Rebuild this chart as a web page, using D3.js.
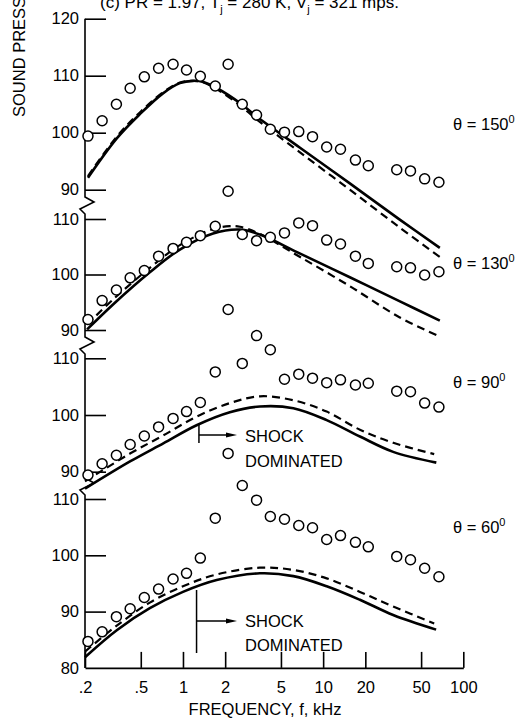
<!DOCTYPE html>
<html>
<head>
<meta charset="utf-8">
<script src="https://cdn.jsdelivr.net/npm/d3@7/dist/d3.min.js"></script>
<style>
body { margin: 0; background: #fff; }
svg text { font-family: "Liberation Sans", Arial, sans-serif; fill: #000; }
</style>
</head>
<body>
<svg id="chart" width="520" height="724"></svg>
<script>
/*global d3*/

// one-third octave band centres, kHz (as they sit on the plot)
var freqs = [0.21, 0.265, 0.335, 0.42, 0.53, 0.67, 0.85, 1.06, 1.33, 1.7, 2.1, 2.65, 3.35,
	4.2, 5.3, 6.7, 8.4, 10.6, 13.3, 17, 21, 33.5, 42, 53, 67];

// measured levels, dB, one array for each angle
var spl150 = [99.4, 102.1, 105.0, 107.8, 109.8, 111.3, 112.0, 111.0, 109.9, 108.2, 112.0, 105.0, 103.1,
	100.6, 100.1, 100.2, 99.3, 97.5, 97.1, 95.2, 94.2, 93.5, 93.3, 91.9, 91.3];
var spl130 = [91.9, 95.3, 97.2, 99.4, 100.7, 103.3, 104.7, 105.8, 107.0, 108.7, 115.0, 107.2, 106.1,
	106.7, 107.5, 109.3, 108.8, 106.2, 105.5, 103.3, 102.0, 101.4, 101.2, 99.9, 100.5];
var spl90 = [89.4, 91.4, 92.9, 94.8, 96.3, 97.9, 99.4, 100.6, 102.2, 107.6, 118.6, 109.1, 114.0,
	111.5, 106.3, 107.2, 106.5, 105.7, 106.2, 105.3, 105.6, 104.2, 104.1, 102.1, 101.4];
var spl60 = [84.7, 86.4, 89.1, 90.5, 92.5, 94.0, 95.8, 96.8, 99.5, 106.6, 118.1, 112.4, 109.8,
	106.9, 106.4, 105.3, 104.9, 102.8, 103.5, 102.3, 101.5, 99.8, 99.2, 97.7, 96.2];

// predicted spectra [kHz, dB]: solid and dashed curves
var solid150 = [[0.21, 92.1], [0.337, 99.0], [0.49, 103.2], [0.72, 106.9], [0.95, 108.7], [1.18, 109.1],
	[1.4, 108.9], [1.75, 107.8], [2.55, 105.2], [3.37, 102.8], [6.8, 97.4], [15.5, 91.1], [35, 84.8], [68, 79.8]];
var dash150 = [[0.21, 92.4], [0.337, 99.3], [0.49, 103.5], [0.72, 107.1], [0.95, 108.8], [1.18, 109.1],
	[1.4, 108.8], [1.75, 107.6], [2.55, 104.8], [3.37, 102.3], [6.8, 96.6], [15.5, 90.0], [35, 83.4], [68, 78.2]];
var solid130 = [[0.207, 90.1], [0.317, 94.6], [0.58, 100.4], [0.95, 104.5], [1.64, 107.4], [2.55, 108.1],
	[3.54, 107.2], [6.8, 103.8], [15.5, 99.5], [35, 95.2], [68, 91.7]];
var dash130 = [[0.207, 91.0], [0.317, 95.5], [0.58, 101.2], [0.95, 105.3], [1.64, 108.2], [2.16, 108.7],
	[2.55, 108.6], [3.54, 107.3], [6.8, 103.2], [15.5, 97.9], [35, 92.3], [68, 88.8]];
var solid90 = [[0.2, 87.0], [0.419, 91.8], [0.724, 95.0], [1.25, 98.2], [2.16, 100.5], [3.54, 101.5],
	[6.13, 101.2], [10.6, 99.1], [18.3, 96.2], [31.6, 93.5], [64.2, 91.6]];
var dash90 = [[0.2, 88.3], [0.419, 93.2], [0.724, 96.4], [1.25, 99.7], [2.16, 102.1], [3.54, 103.3],
	[6.13, 102.6], [10.6, 100.6], [18.3, 97.4], [31.6, 95.1], [62, 93.1]];
var solid60 = [[0.2, 81.9], [0.337, 86.7], [0.58, 90.6], [1.0, 93.5], [1.74, 95.6], [3.54, 96.8],
	[6.13, 96.3], [10.6, 94.5], [18.3, 92.1], [31.6, 89.4], [64, 86.8]];
var dash60 = [[0.2, 82.9], [0.337, 87.5], [0.58, 91.6], [1.0, 94.5], [1.74, 96.6], [3.54, 97.8],
	[6.13, 97.4], [10.6, 95.9], [18.3, 93.5], [31.6, 90.9], [62, 87.9]];

// shock-dominated onset, kHz (only the 90 and 60 deg panels)
var shockFreq = [null, null, 1.3, 1.25];

var angles = [150, 130, 90, 60];
var xTicks = [0.2, 0.5, 1, 2, 5, 10, 20, 50, 100];
var xTickLabels = [".2", ".5", "1", "2", "5", "10", "20", "50", "100"];

var svg = d3.select("#chart");

var x = d3.scaleLog().domain([0.2, 100]).range([85, 463.3]);

// each panel has its own dB scale, stacked down the page
var panels = [
	{ spl: spl150, solid: solid150, dash: dash150, lo: 90, hi: 120, y90: 189.7, y110: 75.7, brk: 197, label: 130 },
	{ spl: spl130, solid: solid130, dash: dash130, lo: 90, hi: 110, y90: 330, y110: 219, brk: 337, label: 269 },
	{ spl: spl90, solid: solid90, dash: dash90, lo: 90, hi: 110, y90: 471.7, y110: 358.3, brk: 478, label: 388 },
	{ spl: spl60, solid: solid60, dash: dash60, lo: 80, hi: 110, y90: 611.6, y110: 499, brk: null, label: 533 }
];

panels.forEach(function(p, i){
	p.y = d3.scaleLinear().domain([90, 110]).range([p.y90, p.y110]);
	p.angle = angles[i];
	p.shock = shockFreq[i];
});

var ax = x(0.2);
var yBottom = panels[3].y(80);

//y axis line with the break zigzags
var axisPts = [[ax, panels[0].y(120)]];
panels.forEach(function(p){
	if(p.brk !== null){
		axisPts.push([ax, p.brk], [ax + 9, p.brk + 5], [ax - 5, p.brk + 12], [ax, p.brk + 17]);
	}
});
axisPts.push([ax, yBottom]);
svg.append("path")
	.attr("d", d3.line()(axisPts))
	.attr("fill", "none")
	.attr("stroke", "#000")
	.attr("stroke-width", 1.6);

//y ticks, per panel
panels.forEach(function(p){
	var vals = d3.range(p.lo, p.hi + 1, 10);
	var yAxis = d3.axisLeft(p.y).tickValues(vals).tickSizeInner(-21).tickSizeOuter(0).tickPadding(6)
		.tickFormat(d3.format("d"));
	var g = svg.append("g").attr("transform", "translate(" + ax + ",0)").call(yAxis);
	g.select(".domain").remove();
	g.selectAll(".tick line").attr("stroke", "#000").attr("stroke-width", 1.6);
	g.selectAll(".tick text").attr("font-size", 16.5).attr("fill", "#000")
		.style("font-family", "'Liberation Sans', Arial, sans-serif");
	if(p.lo === 80){
		g.selectAll(".tick").filter(function(d){ return d === 80; }).select("line").remove();
	}
});

//x axis, ticks pointing up
var xAxis = d3.axisBottom(x).tickValues(xTicks).tickSizeInner(-16).tickSizeOuter(0).tickPadding(13)
	.tickFormat(function(d, i){ return xTickLabels[i]; });
var gx = svg.append("g").attr("transform", "translate(0," + yBottom + ")").call(xAxis);
gx.select(".domain").attr("stroke", "#000").attr("stroke-width", 1.6);
gx.selectAll(".tick line").attr("stroke", "#000").attr("stroke-width", 1.6);
gx.selectAll(".tick text").attr("font-size", 16.5).attr("fill", "#000")
	.style("font-family", "'Liberation Sans', Arial, sans-serif");

//curves and points
panels.forEach(function(p){
	var line = d3.line()
		.x(function(d){ return x(d[0]); })
		.y(function(d){ return p.y(d[1]); })
		.curve(d3.curveCatmullRom.alpha(0.5));

	svg.append("path").datum(p.dash)
		.attr("d", line)
		.attr("fill", "none")
		.attr("stroke", "#000")
		.attr("stroke-width", 2.2)
		.attr("stroke-dasharray", "8,5");

	svg.append("path").datum(p.solid)
		.attr("d", line)
		.attr("fill", "none")
		.attr("stroke", "#000")
		.attr("stroke-width", 2.6);

	svg.append("g").selectAll("circle").data(p.spl).enter().append("circle")
		.attr("cx", function(d, k){ return x(freqs[k]); })
		.attr("cy", function(d){ return p.y(d); })
		.attr("r", 5)
		.attr("fill", "#fff")
		.attr("stroke", "#000")
		.attr("stroke-width", 1.5);

	//angle label
	var t = svg.append("text")
		.attr("x", 453)
		.attr("y", p.label)
		.attr("font-size", 16.5)
		.text("\u03b8 = " + p.angle);
	t.append("tspan").attr("font-size", 11).attr("dy", -7).text("0");

	//shock dominated marker
	if(p.shock !== null){
		var sx = x(p.shock);
		var top, bot, ay, b1, b2;
		if(p.lo === 80){
			top = 590; bot = 653; ay = 621; b1 = 627; b2 = 651;
		}
		else{
			top = 423; bot = 443; ay = 435; b1 = 442; b2 = 467;
		}
		svg.append("line").attr("x1", sx).attr("x2", sx).attr("y1", top).attr("y2", bot)
			.attr("stroke", "#000").attr("stroke-width", 1.5);
		svg.append("line").attr("x1", sx).attr("x2", 228).attr("y1", ay).attr("y2", ay)
			.attr("stroke", "#000").attr("stroke-width", 1.5);
		svg.append("path")
			.attr("d", "M226," + (ay - 2.5) + "L237," + ay + "L226," + (ay + 2.5) + "Z")
			.attr("fill", "#000");
		svg.append("text").attr("x", 245).attr("y", b1).attr("font-size", 16.5).text("SHOCK");
		svg.append("text").attr("x", 245).attr("y", b2).attr("font-size", 16.5).text("DOMINATED");
	}
});

//title, clipped at the top of the page as in the original scan
var title = svg.append("text").attr("x", 100).attr("y", 8).attr("font-size", 17);
title.append("tspan").text("(c) PR = 1.97, T");
title.append("tspan").attr("font-size", 11).attr("dy", 5).text("j");
title.append("tspan").attr("dy", -5).text(" = 280 K, V");
title.append("tspan").attr("font-size", 11).attr("dy", 5).text("j");
title.append("tspan").attr("dy", -5).text(" = 321 mps.");

//axis titles
svg.append("text")
	.attr("transform", "translate(25,117) rotate(-90)")
	.attr("font-size", 16.5)
	.text("SOUND PRESSURE LEVEL, dB");

svg.append("text")
	.attr("x", 265)
	.attr("y", 715)
	.attr("text-anchor", "middle")
	.attr("font-size", 16.5)
	.text("FREQUENCY, f, kHz");
</script>
</body>
</html>
